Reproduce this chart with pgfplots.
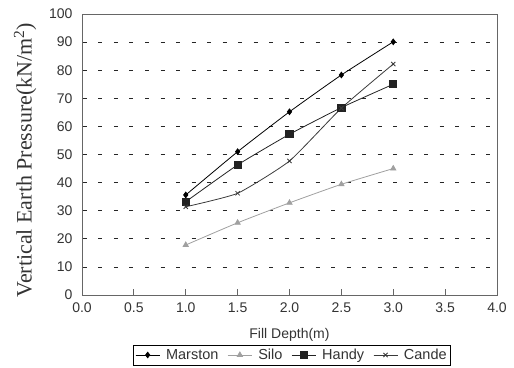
\documentclass[border=0pt]{standalone}
\usepackage{fontspec}
\setmainfont{Liberation Sans}
\newfontfamily\serifload{Liberation Serif}
\usepackage{pgfplots}
\pgfplotsset{compat=1.18}
\definecolor{frame}{HTML}{666666}
\definecolor{txt}{HTML}{333333}
\definecolor{silo}{HTML}{A0A0A0}
\definecolor{handy}{HTML}{222222}
\definecolor{cande}{HTML}{3A3A3A}
\begin{document}
\begin{tikzpicture}
\useasboundingbox (-82pt,-72pt) rectangle (432pt,295pt);
\begin{axis}[
  scale only axis,
  width=415pt, height=281pt,
  xmin=0, xmax=4, ymin=0, ymax=100,
  xtick={0,0.5,...,4}, ytick={0,10,...,100},
  xticklabels={0.0,0.5,1.0,1.5,2.0,2.5,3.0,3.5,4.0},
  axis line style={frame, line width=0.9pt},
  x tick style={frame, line width=0.9pt},
  tick align=inside, major tick length=6pt,
  xtick pos=bottom,
  y tick style={draw=none},
  ymajorgrids,
  major grid style={black!85, line width=0.8pt, dash pattern=on 4pt off 11.5pt, dash phase=-1pt},
  /pgf/number format/assume math mode=true,
  tick label style={font=\fontsize{14}{15}\selectfont, text=txt},
  yticklabel style={xshift=-6pt},
  xticklabel style={yshift=-4pt},
  xlabel={Fill Depth(m)},
  ylabel={Vertical Earth Pressure(kN/m\textsuperscript{2})},
  xlabel style={font=\fontsize{14}{16}\selectfont, text=txt, at={(axis description cs:0.5,-0.143)}, anchor=center},
  ylabel style={font=\serifload\fontsize{22}{24}\selectfont, text=txt, at={(axis description cs:-0.137,0.48)}, anchor=center, rotate=0},
  legend columns=4,
  legend style={at={(axis description cs:0.506,-0.2135)}, anchor=center, draw=black, line width=0.8pt,
    font=\fontsize{14.5}{15}\selectfont, text=txt, inner sep=2pt,
    /tikz/every odd column/.append style={column sep=4pt},
    /tikz/every even column/.append style={column sep=7pt}},
  legend image code/.code={\draw[#1, line width=0.8pt] (0pt,0pt) -- (24pt,0pt); \draw[#1, mark repeat=2, mark phase=2] plot coordinates {(0pt,0pt) (12pt,0pt) (24pt,0pt)};},
]
\addplot[black, line width=0.8pt, smooth, tension=0.3, mark=diamond*, mark size=2.8pt, mark options={solid, fill=black}] coordinates {
 (1.0,35.6) (1.5,51.0) (2.0,65.2) (2.5,78.3) (3.0,90.1)};
\addlegendentry{Marston}
\addplot[silo, line width=0.8pt, smooth, tension=0.3, mark=triangle*, mark size=3pt, mark options={solid, fill=silo}] coordinates {
 (1.0,17.8) (1.5,25.7) (2.0,32.8) (2.5,39.4) (3.0,45.0)};
\addlegendentry{Silo}
\addplot[handy, line width=0.8pt, smooth, tension=0.3, mark=square*, mark size=3.6pt, mark options={solid, fill=handy}] coordinates {
 (1.0,33.2) (1.5,46.3) (2.0,57.2) (2.5,66.7) (3.0,75.0)};
\addlegendentry{Handy}
\addplot[cande, line width=0.8pt, smooth, tension=0.3, mark=x, mark size=3pt, mark options={solid, line width=0.8pt}] coordinates {
 (1.0,31.4) (1.5,36.2) (2.0,47.7) (2.5,66.5) (3.0,82.2)};
\addlegendentry{Cande}
\end{axis}
\end{tikzpicture}
\end{document}
